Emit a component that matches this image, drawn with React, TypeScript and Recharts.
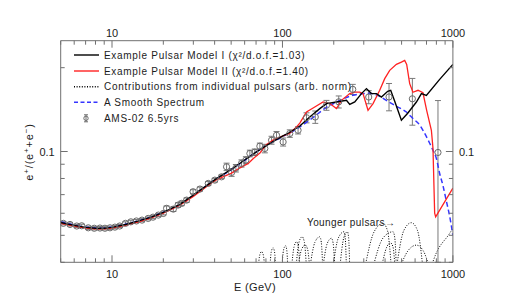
import React from 'react';
import { ComposedChart, Line, Scatter, XAxis, YAxis, ErrorBar } from 'recharts';

// AMS-02 positron fraction
const amsEnergy = [5.18, 5.67, 6.21, 6.64, 7.26, 7.87, 8.5, 9.09, 9.73, 10.4, 11.1, 12.0, 12.9, 13.9, 15.0, 16.3, 17.4, 18.7, 20.0, 20.9, 22.9, 24.4, 25.6, 27.4, 29.9, 32.8, 36.7, 40.1, 43.9, 47.0, 50.3, 53.3, 57.5, 61.0, 64.4, 68.8, 73.7, 78.8, 86.3, 92.3, 100.9, 110.4, 123.5, 138.4, 155.8, 181.2, 213.9, 258.5, 320.7, 421.9, 578.3, 817.4];
const amsFraction = [0.0552, 0.0547, 0.054, 0.0541, 0.0532, 0.053, 0.0531, 0.053, 0.0532, 0.0535, 0.054, 0.0552, 0.0559, 0.0563, 0.0567, 0.0575, 0.0581, 0.0591, 0.0599, 0.0625, 0.0621, 0.0642, 0.0651, 0.0669, 0.0717, 0.0733, 0.0768, 0.0789, 0.0811, 0.0881, 0.0841, 0.0871, 0.0906, 0.0931, 0.0984, 0.0994, 0.1045, 0.1025, 0.1098, 0.1144, 0.1082, 0.116, 0.1192, 0.1322, 0.133, 0.1466, 0.1508, 0.1672, 0.1569, 0.157, 0.1546, 0.0992];
const amsErrLow = [0.0007, 0.0007, 0.0007, 0.0007, 0.0007, 0.0007, 0.0007, 0.0007, 0.0007, 0.0007, 0.0007, 0.0007, 0.0007, 0.0007, 0.0007, 0.0007, 0.0007, 0.0007, 0.0007, 0.0012, 0.0012, 0.0012, 0.0012, 0.0012, 0.0012, 0.0012, 0.0012, 0.0012, 0.0012, 0.0027, 0.0027, 0.0027, 0.0027, 0.0027, 0.0027, 0.0027, 0.0027, 0.0036, 0.0036, 0.0036, 0.0036, 0.0036, 0.0036, 0.0055, 0.0068, 0.006, 0.0075, 0.007, 0.0085, 0.017, 0.0303, 0.0592];
const amsErrHigh = [0.0007, 0.0007, 0.0007, 0.0007, 0.0007, 0.0007, 0.0007, 0.0007, 0.0007, 0.0007, 0.0007, 0.0007, 0.0007, 0.0007, 0.0007, 0.0007, 0.0007, 0.0007, 0.0007, 0.0012, 0.0012, 0.0012, 0.0012, 0.0012, 0.0012, 0.0012, 0.0012, 0.0012, 0.0012, 0.0027, 0.0027, 0.0027, 0.0027, 0.0027, 0.0027, 0.0027, 0.0027, 0.0036, 0.0036, 0.0036, 0.0036, 0.0036, 0.0036, 0.0055, 0.0068, 0.006, 0.0075, 0.007, 0.0085, 0.0185, 0.0284, 0.0532];

// Example Pulsar Model I  [E, fraction]
const modelI: [number, number][] = [
  [5, 0.0556], [6, 0.0543], [7, 0.0534], [8, 0.053], [9, 0.053], [10, 0.0534], [12, 0.0547], [14, 0.0561], [17, 0.0581], [20, 0.0604], [25, 0.0646], [30, 0.0697], [35, 0.0746], [40, 0.0791], [50, 0.0862], [60, 0.0932], [70, 0.0995], [80, 0.1048], [90, 0.1095], [100, 0.1135], [110, 0.117], [126.4, 0.1235], [144.6, 0.1331], [165.6, 0.1426], [181.2, 0.1486], [207.4, 0.1506], [237.4, 0.1527], [248.2, 0.1477], [265.6, 0.1506], [290.8, 0.1614], [311, 0.1682], [332.7, 0.1614], [355.9, 0.1614], [380.7, 0.1569], [414.5, 0.1645], [431.6, 0.1659], [455.6, 0.1515], [498.6, 0.1295], [543, 0.1372], [610.7, 0.1506], [653.4, 0.1614], [698.9, 0.1591], [836.2, 0.1816], [1000, 0.2056],
];

// Example Pulsar Model II
const modelII: [number, number][] = [
  [5, 0.0552], [6, 0.054], [7, 0.0531], [8, 0.0527], [9, 0.0527], [10, 0.0531], [12, 0.0543], [14, 0.0557], [17, 0.0577], [20, 0.06], [25, 0.0641], [30, 0.069], [35, 0.074], [40, 0.0785], [45, 0.0812], [50, 0.0835], [56, 0.0872], [63, 0.0906], [67, 0.094], [74, 0.099], [80, 0.1055], [88, 0.1098], [100, 0.1135], [110, 0.1162], [121, 0.1225], [126.4, 0.1265], [138.4, 0.1386], [154.7, 0.1445], [173.1, 0.1506], [189.5, 0.1486], [207.4, 0.1426], [221.9, 0.1527], [248.2, 0.1614], [265.6, 0.1635], [284.1, 0.1635], [297, 0.1614], [317.7, 0.1406], [340, 0.1486], [372.1, 0.1659], [398.1, 0.1827], [425.9, 0.1956], [466.1, 0.2056], [498.6, 0.2095], [521.4, 0.2125], [535.6, 0.2056], [557.8, 0.1753], [583, 0.1632], [624, 0.1659], [667.4, 0.1625], [701.6, 0.1406], [747.7, 0.1192], [764.1, 0.1027], [781.6, 0.0601], [792.3, 0.0583], [1000, 0.0739],
];

// A Smooth Spectrum
const smoothSpectrum: [number, number][] = [
  [5, 0.0559], [6, 0.0544], [7, 0.0535], [8, 0.0531], [9, 0.0531], [10, 0.0535], [12, 0.0548], [14, 0.0562], [17, 0.0582], [20, 0.0605], [25, 0.0645], [30, 0.0695], [35, 0.0745], [40, 0.079], [50, 0.086], [60, 0.093], [70, 0.0995], [80, 0.105], [100, 0.113], [126.4, 0.1225], [150, 0.132], [181.2, 0.1441], [220, 0.153], [258.5, 0.1591], [325, 0.1618], [370, 0.158], [421.9, 0.1506], [470, 0.145], [533.4, 0.1386], [583, 0.1313], [638.5, 0.1245], [667.4, 0.1192], [730.7, 0.1071], [764, 0.101], [800, 0.0944], [836, 0.0834], [874, 0.0755], [913, 0.0669], [960, 0.058], [1000, 0.05],
];

// Contributions from individual pulsars (arb. norm)
const pulsarBumps: [number, number][][] = [
  [[72, 0.038], [73.6, 0.0425], [75.4, 0.0437], [77.2, 0.0425], [78.8, 0.038]],
  [[84.3, 0.038], [86, 0.0437], [88.1, 0.0451], [89.8, 0.0437], [91.4, 0.038]],
  [[99.1, 0.038], [101.5, 0.0443], [104.2, 0.0459], [106, 0.0443], [107.5, 0.038]],
  [[113, 0.038], [117, 0.0455], [120.9, 0.0474], [124, 0.0455], [126.4, 0.038]],
  [[120, 0.038], [125, 0.0472], [130.4, 0.0494], [134.5, 0.0472], [138.4, 0.038]],
  [[123, 0.038], [129.5, 0.0445], [136, 0.0461], [140.5, 0.0445], [144.6, 0.038]],
  [[144.6, 0.038], [155, 0.0472], [165.6, 0.0494], [169, 0.0472], [172.4, 0.038]],
  [[172.4, 0.038], [183, 0.0467], [193.9, 0.0488], [198.5, 0.0467], [202.7, 0.038]],
  [[197.3, 0.038], [213, 0.049], [229.8, 0.0515], [233.5, 0.049], [237.4, 0.038]],
  [[216.9, 0.038], [229, 0.049], [240.6, 0.0515], [244.5, 0.049], [248.2, 0.038]],
  [[303.9, 0.038], [345, 0.0515], [389, 0.0552], [413, 0.052], [435.7, 0.038]],
  [[338.5, 0.038], [390, 0.049], [445.2, 0.0515], [456, 0.049], [466.1, 0.038]],
  [[380, 0.038], [410, 0.0455], [430, 0.047], [445, 0.0455], [458, 0.038]],
  [[466.1, 0.038], [515, 0.052], [570.6, 0.0555], [620, 0.052], [667.4, 0.038]],
  [[487.4, 0.038], [545, 0.044], [610.7, 0.0461], [670, 0.044], [730.7, 0.038]],
  [[740, 0.038], [790, 0.0425], [957, 0.0508], [1000, 0.053]],
];

const xTicks = [5, 6, 7, 8, 9, 10, 20, 30, 40, 50, 60, 70, 80, 90, 100, 200, 300, 400, 500, 600, 700, 800, 900, 1000];
const xMajor = [10, 100, 1000];
const yTicks = [0.04, 0.05, 0.06, 0.07, 0.08, 0.09, 0.1, 0.2];
const yMajor = [0.1];

const toPts = (arr: [number, number][]) => arr.map(([E, v]) => ({ E, v }));
const amsData = amsEnergy.map((E, i) => ({ E, v: amsFraction[i], err: [amsErrLow[i], amsErrHigh[i]] }));

const AXIS = '#707070';
const TXT = '#1c1c1c';
const FONT = '"Liberation Sans", Arial, sans-serif';
const RED = '#ff2222';
const BLUE = '#3535ff';

const isMajor = (list: number[], v: number) => list.some((m) => Math.abs(m - v) / m < 1e-6);

const BottomTick = (p: any) => {
  const { x, y, payload } = p;
  const major = isMajor(xMajor, payload.value);
  return (
    <g>
      <line x1={x} y1={y} x2={x} y2={y - (major ? 7 : 4)} stroke={AXIS} strokeWidth={1} />
      {major && (
        <text x={x} y={y + 16} textAnchor="middle" fontSize={11} fill={TXT} fontFamily={FONT}>
          {payload.value}
        </text>
      )}
    </g>
  );
};

const TopTick = (p: any) => {
  const { x, y, payload } = p;
  const major = isMajor(xMajor, payload.value);
  return (
    <g>
      <line x1={x} y1={y} x2={x} y2={y + (major ? 7 : 4)} stroke={AXIS} strokeWidth={1} />
      {major && (
        <text x={x} y={y - 4} textAnchor="middle" fontSize={11} fill={TXT} fontFamily={FONT}>
          {payload.value}
        </text>
      )}
    </g>
  );
};

const LeftTick = (p: any) => {
  const { x, y, payload } = p;
  const major = isMajor(yMajor, payload.value);
  return (
    <g>
      <line x1={x} y1={y} x2={x + (major ? 7 : 4)} y2={y} stroke={AXIS} strokeWidth={1} />
      {major && (
        <text x={x - 6} y={y + 4} textAnchor="end" fontSize={11} fill={TXT} fontFamily={FONT}>
          {payload.value}
        </text>
      )}
    </g>
  );
};

const RightTick = (p: any) => {
  const { x, y, payload } = p;
  const major = isMajor(yMajor, payload.value);
  return (
    <g>
      <line x1={x} y1={y} x2={x - (major ? 7 : 4)} y2={y} stroke={AXIS} strokeWidth={1} />
      {major && (
        <text x={x + 6} y={y + 4} textAnchor="start" fontSize={11} fill={TXT} fontFamily={FONT}>
          {payload.value}
        </text>
      )}
    </g>
  );
};

const Marker = (p: any) => (
  <circle cx={p.cx} cy={p.cy} r={3.1} fill="none" stroke="#6a6a6a" strokeWidth={1} />
);

const legendRows = [
  { y: 55, label: 'Example Pulsar Model I (\u03c7\u00b2/d.o.f.=1.03)', color: '#000', dash: undefined as string | undefined, kind: 'line' },
  { y: 71, label: 'Example Pulsar Model II (\u03c7\u00b2/d.o.f.=1.40)', color: RED, dash: undefined, kind: 'line' },
  { y: 86.7, label: 'Contributions from individual pulsars (arb. norm)', color: '#000', dash: '1 1.6', kind: 'line' },
  { y: 102.3, label: 'A Smooth Spectrum', color: BLUE, dash: '4 2.5', kind: 'line' },
  { y: 118.3, label: 'AMS-02 6.5yrs', color: '#6a6a6a', dash: undefined, kind: 'point' },
];

export default function App() {
  return (
    <div style={{ position: 'absolute', left: 0, top: 0, width: 512, height: 308, background: '#fff' }}>
      <ComposedChart
        width={512}
        height={308}
        margin={{ top: 39.7, right: 58.1, bottom: 44.7, left: 59.7 }}
      >
        <XAxis
          xAxisId="bottom"
          dataKey="E"
          type="number"
          scale="log"
          domain={[5, 1000]}
          allowDataOverflow
          ticks={xTicks}
          interval={0}
          height={1}
          tickSize={0}
          tickMargin={0}
          tickLine={false}
          tick={BottomTick}
          axisLine={{ stroke: AXIS, strokeWidth: 1 }}
        />
        <XAxis
          xAxisId="top"
          orientation="top"
          dataKey="E"
          type="number"
          scale="log"
          domain={[5, 1000]}
          allowDataOverflow
          ticks={xTicks}
          interval={0}
          height={1}
          tickSize={0}
          tickMargin={0}
          tickLine={false}
          tick={TopTick}
          axisLine={{ stroke: AXIS, strokeWidth: 1 }}
        />
        <YAxis
          yAxisId="left"
          dataKey="v"
          type="number"
          scale="log"
          domain={[0.04, 0.25]}
          allowDataOverflow
          ticks={yTicks}
          interval={0}
          width={1}
          tickSize={0}
          tickMargin={0}
          tickLine={false}
          tick={LeftTick}
          axisLine={{ stroke: AXIS, strokeWidth: 1 }}
        />
        <YAxis
          yAxisId="right"
          orientation="right"
          dataKey="v"
          type="number"
          scale="log"
          domain={[0.04, 0.25]}
          allowDataOverflow
          ticks={yTicks}
          interval={0}
          width={1}
          tickSize={0}
          tickMargin={0}
          tickLine={false}
          tick={RightTick}
          axisLine={{ stroke: AXIS, strokeWidth: 1 }}
        />

        {pulsarBumps.map((b, i) => (
          <Line
            key={'bump' + i}
            xAxisId="bottom"
            yAxisId="left"
            data={toPts(b)}
            dataKey="v"
            type="monotone"
            stroke="#000"
            strokeWidth={1}
            strokeDasharray="1 1.6"
            dot={false}
            activeDot={false}
            isAnimationActive={false}
          />
        ))}

        <Scatter
          xAxisId="bottom"
          yAxisId="left"
          data={amsData}
          dataKey="v"
          shape={Marker}
          isAnimationActive={false}
        >
          <ErrorBar dataKey="err" direction="y" width={3} stroke="#7a7a7a" strokeWidth={1} />
        </Scatter>

        <Line
          xAxisId="bottom"
          yAxisId="left"
          data={toPts(smoothSpectrum)}
          dataKey="v"
          type="monotone"
          stroke={BLUE}
          strokeWidth={1.5}
          strokeDasharray="5 3"
          dot={false}
          activeDot={false}
          isAnimationActive={false}
        />
        <Line
          xAxisId="bottom"
          yAxisId="left"
          data={toPts(modelII)}
          dataKey="v"
          type="linear"
          stroke={RED}
          strokeWidth={1.3}
          dot={false}
          activeDot={false}
          isAnimationActive={false}
        />
        <Line
          xAxisId="bottom"
          yAxisId="left"
          data={toPts(modelI)}
          dataKey="v"
          type="linear"
          stroke="#000"
          strokeWidth={1.4}
          dot={false}
          activeDot={false}
          isAnimationActive={false}
        />
      </ComposedChart>

      <svg
        width={512}
        height={308}
        style={{ position: 'absolute', left: 0, top: 0, pointerEvents: 'none' }}
        fontFamily={FONT}
      >
        {legendRows.map((r) => (
          <g key={r.label}>
            {r.kind === 'line' ? (
              <line x1={74} x2={99} y1={r.y} y2={r.y} stroke={r.color} strokeWidth={1.4} strokeDasharray={r.dash} />
            ) : (
              <g>
                <circle cx={86} cy={r.y} r={2.2} fill="none" stroke={r.color} strokeWidth={1} />
                <line x1={86} x2={86} y1={r.y - 3.5} y2={r.y + 3.5} stroke={r.color} strokeWidth={1} />
                <line x1={84} x2={88} y1={r.y - 3.5} y2={r.y - 3.5} stroke={r.color} strokeWidth={1} />
                <line x1={84} x2={88} y1={r.y + 3.5} y2={r.y + 3.5} stroke={r.color} strokeWidth={1} />
              </g>
            )}
            <text x={104} y={r.y + 3.6} fontSize={10} fill={TXT} letterSpacing={0.7}>
              {r.label}
            </text>
          </g>
        ))}
        <text x={307} y={226} fontSize={10} fill={TXT} letterSpacing={0.4}>
          Younger pulsars{'\u2192'}
        </text>
        <text x={255} y={291} fontSize={11} fill={TXT} textAnchor="middle" letterSpacing={0.3}>
          E (GeV)
        </text>
        <text
          x={33}
          y={152}
          fontSize={11}
          fill={TXT}
          textAnchor="middle"
          letterSpacing={0.8}
          transform="rotate(-90 33 152)"
        >
          e<tspan fontSize={8} dy={-4}>+</tspan>
          <tspan dy={4}>/(e</tspan>
          <tspan fontSize={8} dy={-4}>+</tspan>
          <tspan dy={4}>+e</tspan>
          <tspan fontSize={8} dy={-4}>{'\u2212'}</tspan>
          <tspan dy={4}>)</tspan>
        </text>
      </svg>
    </div>
  );
}
